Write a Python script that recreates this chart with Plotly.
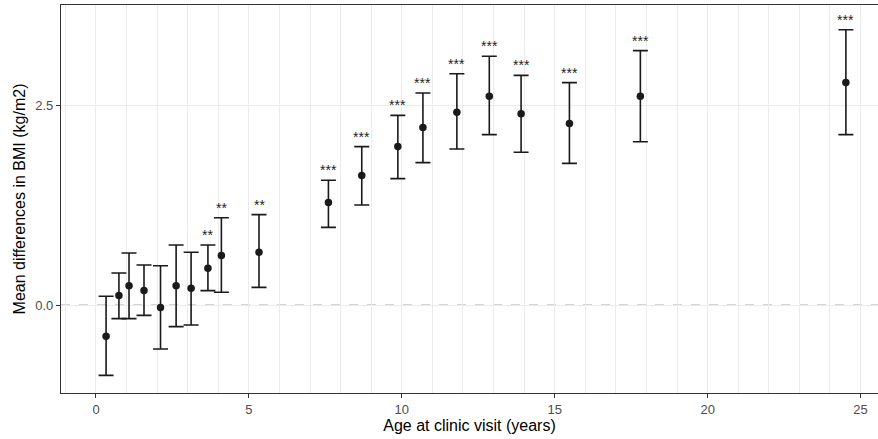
import plotly.graph_objects as go

age = [0.33, 0.75, 1.08, 1.57, 2.11, 2.62, 3.11, 3.66, 4.10, 5.33,
       7.60, 8.69, 9.87, 10.69, 11.80, 12.86, 13.90, 15.48, 17.80, 24.52]
mean_diff = [-0.39, 0.12, 0.24, 0.18, -0.03, 0.24, 0.21, 0.46, 0.62, 0.66,
             1.28, 1.62, 1.98, 2.22, 2.41, 2.61, 2.39, 2.27, 2.61, 2.78]
upper = [0.11, 0.40, 0.65, 0.50, 0.49, 0.75, 0.66, 0.75, 1.09, 1.13,
         1.56, 1.98, 2.37, 2.65, 2.89, 3.11, 2.87, 2.78, 3.18, 3.44]
lower = [-0.88, -0.17, -0.17, -0.13, -0.55, -0.27, -0.25, 0.18, 0.16, 0.22,
         0.97, 1.25, 1.58, 1.78, 1.95, 2.13, 1.91, 1.77, 2.04, 2.13]
signif = ["", "", "", "", "", "", "", "**", "**", "**",
          "***", "***", "***", "***", "***", "***", "***", "***", "***", "***"]

x_ticks = [0, 5, 10, 15, 20, 25]
y_ticks = [0.0, 2.5]
y_tick_labels = ["0.0", "2.5"]

err_plus = [u - m for u, m in zip(upper, mean_diff)]
err_minus = [m - l for m, l in zip(mean_diff, lower)]

fig = go.Figure()
fig.add_trace(go.Scatter(
    x=age, y=mean_diff, mode="markers",
    marker=dict(color="#1a1a1a", size=7.5),
    error_y=dict(type="data", symmetric=False, array=err_plus, arrayminus=err_minus,
                 color="#1a1a1a", thickness=1.6, width=7.5),
    showlegend=False, hoverinfo="skip",
))

for xa, ua, s in zip(age, upper, signif):
    if s:
        fig.add_annotation(x=xa, y=ua, text=s, showarrow=False, yanchor="bottom",
                           xanchor="center", yshift=0,
                           font=dict(size=14, color="#222222", family="Liberation Sans, Arial, sans-serif"))

fig.add_shape(type="line", xref="paper", x0=0, x1=1, yref="y", y0=0, y1=0,
              line=dict(color="#AAAAAA", width=1.1, dash="dash"), layer="below")

fig.update_layout(
    width=878, height=439,
    margin=dict(l=61, r=0, t=5, b=46),
    paper_bgcolor="white", plot_bgcolor="white",
    font=dict(family="Liberation Sans, Arial, sans-serif"),
    xaxis=dict(
        range=[-1.144, 25.57], tickvals=x_ticks, ticktext=[str(v) for v in x_ticks],
        showgrid=True, gridcolor="#EBEBEB", gridwidth=1.2,
        minor=dict(dtick=1, tick0=0, showgrid=True, gridcolor="#EBEBEB", gridwidth=1),
        showline=True, linecolor="#333333", linewidth=1.2, mirror=True,
        ticks="outside", ticklen=4, tickcolor="#333333", tickwidth=1,
        tickfont=dict(size=13, color="#4D4D4D"),
        title=dict(text="Age at clinic visit (years)", font=dict(size=16, color="black"), standoff=3),
        zeroline=False,
    ),
    yaxis=dict(
        range=[-1.1, 3.75], tickvals=y_ticks, ticktext=y_tick_labels,
        showgrid=True, gridcolor="#EBEBEB", gridwidth=1.2,
        showline=True, linecolor="#333333", linewidth=1.2, mirror=False,
        ticks="outside", ticklen=4, tickcolor="#333333", tickwidth=1,
        tickfont=dict(size=13, color="#4D4D4D"),
        title=dict(text="Mean differences in BMI (kg/m2)", font=dict(size=16, color="black"), standoff=5),
        zeroline=False,
    ),
)

fig.write_html("out.html")
